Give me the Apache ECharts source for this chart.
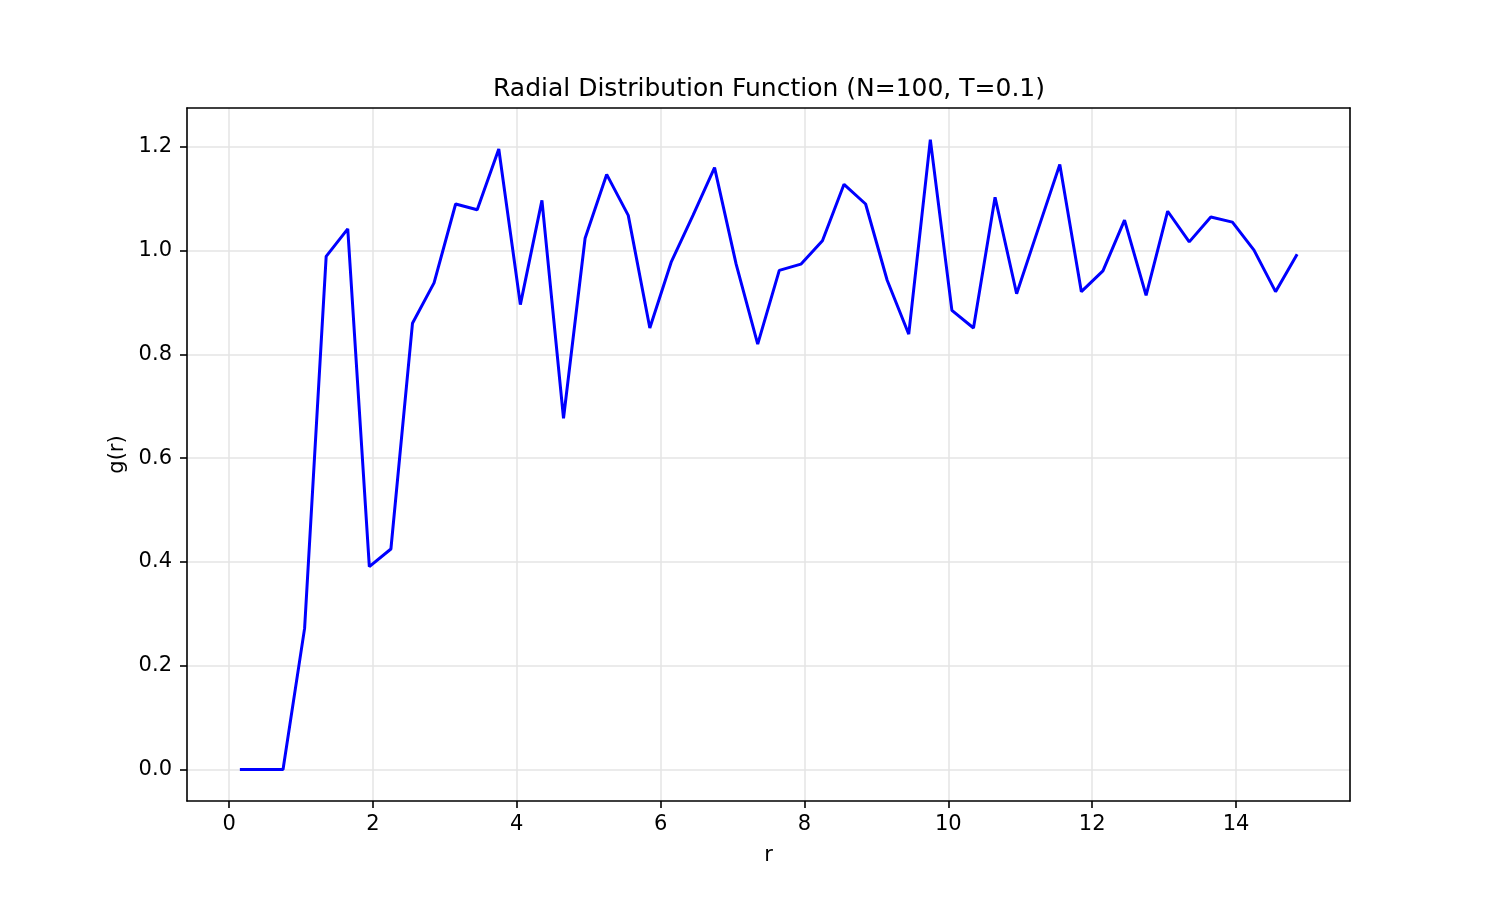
<!DOCTYPE html>
<html>
<head>
<meta charset="utf-8">
<script src="https://cdn.jsdelivr.net/npm/echarts@6/dist/echarts.min.js"></script>
<style>
html,body{margin:0;padding:0;background:#fff;}
#chart{width:1500px;height:900px;}
</style>
</head>
<body>
<div id="chart"></div>
<script>
// bin centres of r (0.15 .. 14.85, step 0.3)
var rValues = [0.15,0.45,0.75,1.05,1.35,1.65,1.95,2.25,2.55,2.85,
	3.15,3.45,3.75,4.05,4.35,4.65,4.95,5.25,5.55,5.85,
	6.15,6.45,6.75,7.05,7.35,7.65,7.95,8.25,8.55,8.85,
	9.15,9.45,9.75,10.05,10.35,10.65,10.95,11.25,11.55,11.85,
	12.15,12.45,12.75,13.05,13.35,13.65,13.95,14.25,14.55,14.85];
var gValues = [0,0,0,0.272,0.989,1.042,0.391,0.425,0.860,0.938,
	1.090,1.079,1.196,0.896,1.097,0.677,1.024,1.147,1.068,0.851,
	0.979,1.068,1.160,0.974,0.820,0.962,0.974,1.019,1.128,1.090,
	0.943,0.839,1.214,0.885,0.851,1.103,0.917,1.042,1.166,0.921,
	0.961,1.059,0.914,1.076,1.017,1.065,1.055,1.001,0.921,0.993];
var xTicks = [0,2,4,6,8,10,12,14];
var yTicks = [0,0.2,0.4,0.6,0.8,1.0,1.2];
var xRange = [-0.585, 15.585];
var yRange = [-0.0607, 1.275];

function getDOM(id){
	return document.getElementById(id);
}
function onStep(v,step){
	return Math.abs(v/step-Math.round(v/step))<1e-6;
}

var points=[];
for(var i=0;i<rValues.length;i++)
	points.push([rValues[i],gValues[i]]);

var myChart=echarts.init(getDOM('chart'));
var font='DejaVu Sans';
var gridColor='#e5e5e5';
// frame axes: top and right spines only
var frameX={type:'value',position:'top',min:xRange[0],max:xRange[1],z:5,
	axisLine:{show:true,onZero:false,lineStyle:{color:'#000',width:1.6}},
	axisTick:{show:false},axisLabel:{show:false},splitLine:{show:false}};
var frameY={type:'value',position:'right',min:yRange[0],max:yRange[1],z:5,
	axisLine:{show:true,onZero:false,lineStyle:{color:'#000',width:1.6}},
	axisTick:{show:false},axisLabel:{show:false},splitLine:{show:false}};

var option={
	backgroundColor:'#fff',
	animation:false,
	title:{
		text:'Radial Distribution Function (N=100, T=0.1)',
		left:764,
		top:72,
		textAlign:'center',
		textStyle:{fontFamily:font,fontSize:25,fontWeight:'normal',color:'#000'}
	},
	grid:{left:187,top:108,width:1163,height:693,show:false},
	xAxis:[{
		type:'value',
		min:xRange[0],max:xRange[1],
		splitNumber:8,
		z:5,
		name:'r',
		nameLocation:'middle',
		nameGap:44,
		nameTextStyle:{fontFamily:font,fontSize:21,color:'#000'},
		axisLine:{show:true,onZero:false,lineStyle:{color:'#000',width:1.6}},
		axisTick:{show:true,length:7,customValues:xTicks,lineStyle:{color:'#000',width:1.6}},
		axisLabel:{fontFamily:font,fontSize:21,color:'#000',margin:13,customValues:xTicks,
			formatter:function(v){return onStep(v,2)?String(Math.round(v)):'';}},
		splitLine:{show:true,lineStyle:{color:gridColor,width:1.5}}
	},frameX],
	yAxis:[{
		type:'value',
		min:yRange[0],max:yRange[1],
		splitNumber:7,
		z:5,
		name:'g(r)',
		nameLocation:'middle',
		nameGap:50,
		nameTextStyle:{fontFamily:font,fontSize:21,color:'#000'},
		axisLine:{show:true,onZero:false,lineStyle:{color:'#000',width:1.6}},
		axisTick:{show:true,length:7,customValues:yTicks,lineStyle:{color:'#000',width:1.6}},
		axisLabel:{fontFamily:font,fontSize:21,color:'#000',margin:15,customValues:yTicks,
			formatter:function(v){return onStep(v,0.2)?v.toFixed(1):'';}},
		splitLine:{show:true,lineStyle:{color:gridColor,width:1.5}}
	},frameY],
	series:[{
		type:'line',
		z:10,
		data:points,
		showSymbol:false,
		lineStyle:{color:'#0000ff',width:3},
		itemStyle:{color:'#0000ff'}
	}]
};
myChart.setOption(option);
</script>
</body>
</html>
